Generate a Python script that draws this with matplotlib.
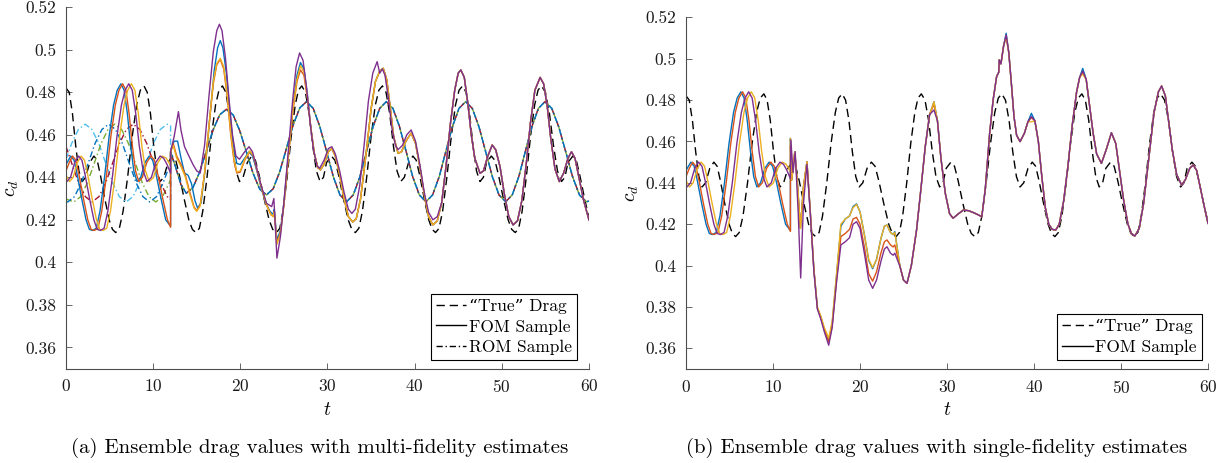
import matplotlib
matplotlib.use("Agg")
import matplotlib.pyplot as plt
from matplotlib.lines import Line2D

plt.rcParams['font.family'] = ['cmr10', 'DejaVu Serif']
plt.rcParams['mathtext.fontset'] = 'cm'
plt.rcParams['axes.formatter.use_mathtext'] = True

# --- axis ticks -------------------------------------------------------------
x_ticks = [0, 10, 20, 30, 40, 50, 60]
y_ticks = [0.36, 0.38, 0.40, 0.42, 0.44, 0.46, 0.48, 0.50, 0.52]
y_tick_labels = ['0.36', '0.38', '0.4', '0.42', '0.44', '0.46', '0.48', '0.5', '0.52']

captions = ['(a) Ensemble drag values with multi-fidelity estimates',
            '(b) Ensemble drag values with single-fidelity estimates']

# --- "true" drag (same in both panels), (t, c_d) ----------------------------
true_drag = [
    (0.0, 0.482), (0.37, 0.480), (0.74, 0.470), (1.11, 0.455), (1.48, 0.443), (1.85, 0.438),
    (2.25, 0.440), (2.73, 0.447), (3.2, 0.450), (3.58, 0.448), (3.95, 0.441), (4.45, 0.430),
    (4.95, 0.420), (5.33, 0.4155), (5.7, 0.414), (6.12, 0.416), (6.55, 0.424), (7.07, 0.440),
    (7.59, 0.459), (8.11, 0.474), (8.53, 0.481),
    (8.95, 0.483), (9.32, 0.480), (9.69, 0.470), (10.06, 0.455), (10.43, 0.443), (10.8, 0.438),
    (11.22, 0.440), (11.71, 0.447), (12.2, 0.450), (12.6, 0.448), (13.01, 0.441), (13.55, 0.430),
    (14.09, 0.420), (14.5, 0.4155), (14.9, 0.414), (15.3, 0.416), (15.69, 0.424), (16.18, 0.440),
    (16.67, 0.459), (17.16, 0.474), (17.55, 0.481),
    (17.95, 0.483), (18.34, 0.480), (18.73, 0.470), (19.12, 0.455), (19.51, 0.443), (19.9, 0.438),
    (20.32, 0.440), (20.81, 0.447), (21.3, 0.450), (21.73, 0.448), (22.16, 0.441), (22.73, 0.430),
    (23.3, 0.420), (23.72, 0.4155), (24.15, 0.414), (24.53, 0.416), (24.9, 0.424), (25.37, 0.440),
    (25.83, 0.459), (26.3, 0.474), (26.67, 0.481),
    (27.05, 0.483), (27.47, 0.480), (27.89, 0.470), (28.31, 0.455), (28.73, 0.443), (29.15, 0.438),
    (29.54, 0.440), (29.9, 0.447), (30.45, 0.450), (30.86, 0.448), (31.28, 0.441), (31.83, 0.430),
    (32.38, 0.420), (32.79, 0.4155), (33.2, 0.414), (33.6, 0.416), (34.01, 0.424), (34.5, 0.440),
    (35.0, 0.459), (35.49, 0.474), (35.9, 0.481),
    (36.3, 0.483), (36.72, 0.480), (37.14, 0.470), (37.56, 0.455), (37.98, 0.443), (38.4, 0.438),
    (38.82, 0.440), (39.31, 0.447), (39.8, 0.450), (40.19, 0.448), (40.58, 0.441), (41.1, 0.430),
    (41.62, 0.420), (42.01, 0.4155), (42.4, 0.414), (42.8, 0.416), (43.21, 0.424), (43.7, 0.440),
    (44.2, 0.459), (44.69, 0.474), (45.1, 0.481),
    (45.5, 0.483), (45.9, 0.480), (46.3, 0.470), (46.7, 0.455), (47.1, 0.443), (47.5, 0.438),
    (47.89, 0.440), (48.25, 0.447), (48.8, 0.450), (49.21, 0.448), (49.63, 0.441), (50.18, 0.430),
    (50.73, 0.420), (51.14, 0.4155), (51.55, 0.414), (51.94, 0.416), (52.33, 0.424), (52.81, 0.440),
    (53.29, 0.459), (53.77, 0.474), (54.16, 0.481),
    (54.55, 0.483), (55.01, 0.480), (55.47, 0.470), (55.93, 0.455), (56.39, 0.443), (56.85, 0.438),
    (57.24, 0.440), (57.6, 0.447), (58.15, 0.450), (58.55, 0.448), (58.95, 0.441), (59.5, 0.430),
    (60.0, 0.421)]

# --- FOM samples, t in [0, 12] (same start in both panels) -------------------
fom_blue_early = [
    (0.0, 0.446), (0.55, 0.450), (0.93, 0.448), (1.3, 0.441), (1.8, 0.430), (2.3, 0.420),
    (2.68, 0.4155), (3.05, 0.415), (3.47, 0.416), (3.9, 0.424), (4.42, 0.440), (4.94, 0.459),
    (5.46, 0.474), (5.88, 0.481), (6.3, 0.484), (6.67, 0.481), (7.04, 0.470), (7.41, 0.455),
    (7.78, 0.443), (8.15, 0.438), (8.57, 0.440), (9.06, 0.447), (9.55, 0.450), (9.95, 0.448),
    (10.36, 0.441), (10.9, 0.430), (11.44, 0.420), (12.0, 0.417)]
fom_orange_early = [
    (0.0, 0.443), (0.38, 0.447), (0.75, 0.450), (1.13, 0.448), (1.5, 0.441), (2.0, 0.430),
    (2.5, 0.420), (2.88, 0.4155), (3.25, 0.415), (3.67, 0.416), (4.1, 0.424), (4.62, 0.440),
    (5.14, 0.459), (5.66, 0.474), (6.08, 0.481), (6.5, 0.484), (6.87, 0.481), (7.24, 0.470),
    (7.61, 0.455), (7.98, 0.443), (8.35, 0.438), (8.77, 0.440), (9.26, 0.447), (9.75, 0.450),
    (10.15, 0.448), (10.56, 0.441), (11.1, 0.430), (11.64, 0.420), (12.0, 0.4165)]
fom_yellow_early = [
    (0.0, 0.441), (0.4, 0.438), (0.82, 0.440), (1.3, 0.447), (1.75, 0.450), (2.13, 0.448),
    (2.5, 0.441), (3.0, 0.430), (3.5, 0.420), (3.88, 0.4155), (4.25, 0.415), (4.67, 0.416),
    (5.1, 0.424), (5.62, 0.440), (6.14, 0.459), (6.66, 0.474), (7.08, 0.481), (7.5, 0.484),
    (7.9, 0.481), (8.3, 0.470), (8.7, 0.455), (9.12, 0.443), (9.55, 0.438), (10.05, 0.440),
    (10.55, 0.447), (11.05, 0.450), (11.5, 0.449), (12.0, 0.4455)]
fom_purple_early = [
    (0.0, 0.4385), (0.1, 0.438), (0.52, 0.440), (1.0, 0.447), (1.45, 0.450), (1.83, 0.448),
    (2.2, 0.441), (2.7, 0.430), (3.2, 0.420), (3.58, 0.4155), (3.95, 0.415), (4.37, 0.416),
    (4.8, 0.424), (5.32, 0.440), (5.84, 0.459), (6.36, 0.474), (6.78, 0.481), (7.2, 0.484),
    (7.6, 0.481), (8.0, 0.470), (8.4, 0.455), (8.85, 0.443), (9.3, 0.438), (9.8, 0.440),
    (10.3, 0.447), (10.8, 0.450), (11.2, 0.449), (11.6, 0.446), (12.0, 0.442)]

# --- panel (a): multi-fidelity FOM samples after t = 12 ----------------------
a_blue_mid = [
    (12.0, 0.452), (12.4, 0.457), (12.8, 0.457), (13.2, 0.449), (13.6, 0.442), (14.0, 0.441),
    (14.4, 0.437), (14.8, 0.429), (15.1, 0.4255), (15.5, 0.428), (16.0, 0.445), (16.5, 0.468),
    (17.0, 0.490), (17.4, 0.501), (17.7, 0.5043), (18.0, 0.501), (18.4, 0.489), (18.8, 0.470),
    (19.2, 0.455), (19.6, 0.4465), (20.0, 0.446), (20.5, 0.449), (21.0, 0.452), (21.4, 0.450),
    (21.9, 0.443), (22.4, 0.435), (22.9, 0.428), (23.4, 0.424), (23.8, 0.4225), (23.9, 0.425),
    (24.2, 0.4105), (24.6, 0.415), (25.0, 0.428), (25.5, 0.450), (26.0, 0.472), (26.5, 0.488),
    (26.9, 0.494), (27.3, 0.491), (27.7, 0.479)]
a_orange_mid = [
    (12.0, 0.452), (12.3, 0.456), (12.7, 0.450), (13.2, 0.446), (13.7, 0.441), (14.2, 0.433),
    (14.7, 0.426), (15.0, 0.4243), (15.4, 0.427), (15.9, 0.442), (16.4, 0.464), (16.9, 0.484),
    (17.3, 0.493), (17.7, 0.4955), (18.1, 0.491), (18.5, 0.478), (18.9, 0.460), (19.3, 0.447),
    (19.6, 0.442), (20.0, 0.4425), (20.5, 0.448), (21.1, 0.4522), (21.5, 0.450), (22.0, 0.442),
    (22.5, 0.434), (23.0, 0.427), (23.5, 0.4225), (23.8, 0.4215), (23.9, 0.424), (24.2, 0.409),
    (24.6, 0.414), (25.0, 0.427), (25.5, 0.449), (26.0, 0.470), (26.5, 0.485), (26.9, 0.4905),
    (27.3, 0.488), (27.7, 0.477)]
a_yellow_mid = [
    (12.0, 0.452), (12.3, 0.455), (12.7, 0.449), (13.2, 0.445), (13.7, 0.440), (14.2, 0.432),
    (14.7, 0.4255), (15.0, 0.424), (15.4, 0.4265), (15.9, 0.442), (16.4, 0.464), (16.9, 0.485),
    (17.3, 0.4935), (17.7, 0.496), (18.1, 0.492), (18.5, 0.479), (18.9, 0.461), (19.3, 0.448),
    (19.6, 0.4425), (20.0, 0.443), (20.5, 0.4485), (21.1, 0.4525), (21.5, 0.450), (22.0, 0.442),
    (22.5, 0.434), (23.0, 0.427), (23.5, 0.4225), (23.8, 0.4215), (23.9, 0.4235), (24.2, 0.4085),
    (24.6, 0.4135), (25.0, 0.427), (25.5, 0.449), (26.0, 0.471), (26.5, 0.486), (26.9, 0.4925),
    (27.3, 0.4895), (27.7, 0.478)]
a_shared_mid = [
    (28.1, 0.463), (28.5, 0.451), (28.9, 0.4445), (29.2, 0.4435), (29.6, 0.446), (30.1, 0.452),
    (30.5, 0.4535), (30.9, 0.450), (31.4, 0.441), (31.9, 0.430), (32.4, 0.4215), (32.9, 0.419),
    (33.3, 0.4205), (33.8, 0.430), (34.4, 0.450), (35.0, 0.472), (35.5, 0.485), (36.0, 0.490),
    (36.4, 0.4913), (36.8, 0.486), (37.2, 0.473), (37.6, 0.459), (38.1, 0.4513), (38.5, 0.452),
    (39.0, 0.457), (39.6, 0.4608), (40.1, 0.456), (40.6, 0.445), (41.1, 0.432), (41.6, 0.4215),
    (42.1, 0.4176), (42.6, 0.4195)]
a_purple_mid = [
    (12.0, 0.452), (12.4, 0.459), (12.9, 0.4709), (13.2, 0.462), (13.6, 0.4544), (14.1, 0.450),
    (14.6, 0.4458), (15.0, 0.443), (15.4, 0.442), (15.9, 0.455), (16.4, 0.478), (16.9, 0.499),
    (17.3, 0.509), (17.6, 0.512), (17.9, 0.509), (18.3, 0.496), (18.7, 0.477), (19.1, 0.460),
    (19.5, 0.450), (19.9, 0.4485), (20.5, 0.452), (21.0, 0.4544), (21.4, 0.452), (21.9, 0.444),
    (22.4, 0.436), (23.0, 0.4278), (23.6, 0.4262), (23.85, 0.430), (24.2, 0.402), (24.6, 0.412),
    (25.0, 0.428), (25.5, 0.452), (26.0, 0.476), (26.4, 0.492), (26.8, 0.4985), (27.2, 0.495),
    (27.6, 0.482), (28.0, 0.466), (28.4, 0.453), (28.8, 0.4455), (29.1, 0.4442), (29.6, 0.448),
    (30.1, 0.4535), (30.5, 0.4544), (30.9, 0.451), (31.4, 0.443), (31.9, 0.433), (32.4, 0.425),
    (32.8, 0.423), (33.2, 0.425), (33.7, 0.436), (34.2, 0.455), (34.7, 0.476), (35.2, 0.489),
    (35.7, 0.4944), (36.0, 0.489), (36.3, 0.491), (36.6, 0.488), (37.0, 0.477), (37.4, 0.463),
    (37.8, 0.455), (38.1, 0.453), (38.6, 0.455), (39.1, 0.460), (39.6, 0.4623), (40.1, 0.457),
    (40.6, 0.446), (41.1, 0.433), (41.6, 0.4235), (42.1, 0.420), (42.6, 0.4215)]
a_shared_late = [
    (43.1, 0.428), (43.6, 0.445), (44.1, 0.465), (44.6, 0.481), (45.0, 0.489), (45.3, 0.4905),
    (45.7, 0.487), (46.1, 0.475), (46.5, 0.460), (46.9, 0.449), (47.5, 0.4419), (47.9, 0.443),
    (48.4, 0.450), (48.9, 0.4552), (49.3, 0.453), (49.8, 0.445), (50.3, 0.432), (50.8, 0.4215),
    (51.3, 0.4176), (51.8, 0.4195), (52.3, 0.429), (52.8, 0.446), (53.3, 0.466), (53.8, 0.481),
    (54.4, 0.487), (54.8, 0.484), (55.2, 0.474), (55.6, 0.459), (56.1, 0.444), (56.6, 0.438),
    (57.1, 0.442), (57.6, 0.449), (58.0, 0.452), (58.4, 0.449), (58.8, 0.441), (59.4, 0.429),
    (60.0, 0.420)]

# --- panel (a): ROM samples ---------------------------------------------------
rom_lightblue_early = [
    (0.0, 0.4485), (0.65, 0.4559), (1.42, 0.4625), (2.2, 0.465), (2.98, 0.4625), (3.77, 0.4559),
    (4.55, 0.4467), (5.33, 0.4376), (6.12, 0.4309), (6.9, 0.4284), (7.68, 0.4309), (8.47, 0.4376),
    (9.25, 0.4467), (10.03, 0.4559), (10.82, 0.4625), (11.6, 0.465), (12.0, 0.4643)]
rom_blue_early = [
    (0.0, 0.4285), (0.2, 0.4284), (0.98, 0.4309), (1.77, 0.4376), (2.55, 0.4467), (3.33, 0.4559),
    (4.12, 0.4625), (4.9, 0.465), (5.68, 0.4625), (6.47, 0.4559), (7.25, 0.4467), (8.03, 0.4376),
    (8.82, 0.4309), (9.6, 0.4284), (10.38, 0.4309), (11.17, 0.4376), (12.0, 0.447)]
rom_green_early = [
    (0.0, 0.4298), (0.9, 0.4284), (1.68, 0.4309), (2.47, 0.4376), (3.25, 0.4467), (4.03, 0.4559),
    (4.82, 0.4625), (5.6, 0.465), (6.38, 0.4625), (7.17, 0.4559), (7.95, 0.4467), (8.73, 0.4376),
    (9.52, 0.4309), (10.3, 0.4284), (11.08, 0.4309), (11.87, 0.4376), (12.0, 0.439)]
rom_red_early = [
    (0.0, 0.4545), (0.65, 0.4467), (1.43, 0.4376), (2.22, 0.4309), (3.0, 0.4284), (3.78, 0.4309),
    (4.57, 0.4376), (5.35, 0.4467), (6.13, 0.4559), (6.92, 0.4625), (7.7, 0.465), (8.48, 0.4625),
    (9.27, 0.4559), (10.05, 0.4467), (10.83, 0.4376), (11.62, 0.4309), (12.0, 0.4295)]
rom_merged = [
    (12.0, 0.452), (12.6, 0.4445), (13.2, 0.4365), (13.8, 0.4325),
    (14.57, 0.4352), (15.33, 0.4424), (16.1, 0.4523), (16.87, 0.4622), (17.63, 0.4694), (18.4, 0.472),
    (19.17, 0.4694), (19.93, 0.4620), (20.7, 0.4519), (21.47, 0.4418), (22.23, 0.4344), (23.0, 0.4317),
    (23.77, 0.4346), (24.53, 0.4427), (25.3, 0.4537), (26.07, 0.4647), (26.83, 0.4727), (27.6, 0.4756),
    (28.37, 0.4724), (29.13, 0.4638), (29.9, 0.4521), (30.67, 0.4403), (31.43, 0.4317), (32.2, 0.4285),
    (32.96, 0.4317), (33.72, 0.4403), (34.48, 0.4521), (35.23, 0.4638), (35.99, 0.4724), (36.75, 0.4756),
    (37.51, 0.4724), (38.27, 0.4638), (39.03, 0.4521), (39.78, 0.4403), (40.54, 0.4317), (41.3, 0.4285),
    (42.06, 0.4317), (42.82, 0.4403), (43.58, 0.4521), (44.33, 0.4638), (45.09, 0.4724), (45.85, 0.4756),
    (46.62, 0.4724), (47.38, 0.4638), (48.15, 0.4521), (48.92, 0.4403), (49.68, 0.4317), (50.45, 0.4285),
    (51.2, 0.4317), (51.95, 0.4403), (52.7, 0.4521), (53.45, 0.4638), (54.2, 0.4724), (54.95, 0.4756),
    (55.74, 0.4724), (56.53, 0.4638), (57.33, 0.4521), (58.12, 0.4403), (58.91, 0.4317), (59.7, 0.4285),
    (60.0, 0.4288)]

# --- panel (b): single-fidelity FOM samples after t = 12 ---------------------
b_blue_mid = [
    (12.0, 0.4615), (12.15, 0.4414), (12.5, 0.455), (12.8, 0.440), (13.15, 0.418), (13.5, 0.438),
    (13.9, 0.4502), (14.3, 0.425), (14.7, 0.398), (15.1, 0.3795), (15.5, 0.375), (15.9, 0.369),
    (16.4, 0.3635), (16.8, 0.372), (17.3, 0.395), (17.8, 0.419), (18.3, 0.4225), (18.8, 0.424),
    (19.2, 0.4285), (19.6, 0.4298), (20.0, 0.426), (20.5, 0.415), (21.0, 0.4025), (21.45, 0.3985),
    (21.9, 0.403), (22.4, 0.413), (22.8, 0.419), (23.1, 0.4196), (23.5, 0.416), (23.8, 0.415),
    (24.0, 0.4164), (24.6, 0.3995)]
b_yellow_mid = [
    (12.0, 0.4615), (12.15, 0.4414), (12.5, 0.455), (12.8, 0.440), (13.15, 0.418), (13.5, 0.438),
    (13.9, 0.4502), (14.3, 0.425), (14.7, 0.398), (15.1, 0.380), (15.5, 0.3755), (15.9, 0.370),
    (16.4, 0.365), (16.8, 0.373), (17.3, 0.396), (17.8, 0.420), (18.3, 0.4225), (18.8, 0.424),
    (19.2, 0.428), (19.6, 0.4295), (20.0, 0.426), (20.5, 0.415), (21.0, 0.403), (21.45, 0.399),
    (21.9, 0.403), (22.4, 0.413), (22.8, 0.419), (23.1, 0.4196), (23.5, 0.416), (23.8, 0.415),
    (24.0, 0.416), (24.6, 0.3995)]
b_orange_mid = [
    (12.0, 0.458), (12.15, 0.4414), (12.5, 0.455), (12.8, 0.440), (13.15, 0.418), (13.5, 0.438),
    (13.9, 0.4502), (14.3, 0.425), (14.7, 0.398), (15.1, 0.3795), (15.5, 0.375), (15.9, 0.369),
    (16.4, 0.363), (16.8, 0.371), (17.3, 0.393), (17.8, 0.414), (18.3, 0.4155), (18.8, 0.4175),
    (19.2, 0.4225), (19.6, 0.4233), (20.0, 0.420), (20.5, 0.409), (21.0, 0.396), (21.45, 0.3925),
    (21.9, 0.397), (22.4, 0.406), (22.8, 0.4115), (23.1, 0.4124), (23.5, 0.410), (23.8, 0.409),
    (24.0, 0.410), (24.6, 0.3995)]
b_purple_mid = [
    (12.0, 0.442), (12.05, 0.4607), (12.3, 0.445), (12.55, 0.455), (12.9, 0.425), (13.18, 0.394),
    (13.5, 0.430), (13.9, 0.449), (14.3, 0.424), (14.7, 0.397), (15.1, 0.379), (15.5, 0.374),
    (15.9, 0.368), (16.4, 0.3615), (16.8, 0.370), (17.3, 0.392), (17.8, 0.410), (18.3, 0.4115),
    (18.8, 0.4135), (19.2, 0.420), (19.6, 0.4212), (20.0, 0.418), (20.5, 0.406), (21.0, 0.393),
    (21.45, 0.389), (21.9, 0.393), (22.4, 0.402), (22.8, 0.408), (23.1, 0.4091), (23.5, 0.406),
    (23.8, 0.405), (24.0, 0.406), (24.6, 0.3995)]
b_shared_1 = [
    (25.0, 0.393), (25.4, 0.3914), (25.9, 0.400), (26.5, 0.4172), (27.0, 0.437), (27.5, 0.4575),
    (28.0, 0.473)]
b_shared_2 = [
    (28.9, 0.470), (29.3, 0.452), (29.8, 0.435), (30.3, 0.425), (30.7, 0.4229), (31.3, 0.425),
    (31.9, 0.4269), (32.5, 0.4265), (33.1, 0.4255), (33.6, 0.4245), (34.0, 0.4236), (34.4, 0.437),
    (34.9, 0.4639), (35.3, 0.480), (35.7, 0.4913), (35.95, 0.4935), (36.0, 0.4994), (36.2, 0.4975),
    (36.5, 0.506)]
b_shared_3 = [
    (37.1, 0.503), (37.4, 0.488), (37.7, 0.472), (38.0, 0.463), (38.4, 0.4599), (38.9, 0.464),
    (39.3, 0.4695)]
b_shared_4 = [
    (40.1, 0.470), (40.5, 0.460), (40.9, 0.443), (41.3, 0.428), (41.7, 0.420), (42.1, 0.4175),
    (42.5, 0.4172), (42.9, 0.420), (43.4, 0.431), (43.9, 0.448), (44.4, 0.468), (44.9, 0.484),
    (45.25, 0.491)]
b_shared_late = [
    (46.0, 0.490), (46.4, 0.477), (46.8, 0.4639), (47.2, 0.454), (47.75, 0.4494), (48.3, 0.456),
    (48.9, 0.4642), (49.4, 0.459), (49.9, 0.444), (50.3, 0.4317), (50.8, 0.420), (51.2, 0.4155),
    (51.6, 0.4143), (52.1, 0.418), (52.6, 0.430), (53.3, 0.4559), (53.8, 0.474), (54.3, 0.484),
    (54.67, 0.4868), (55.1, 0.482), (55.5, 0.469), (55.9, 0.4559), (56.4, 0.444), (56.97, 0.4389),
    (57.4, 0.4415), (57.9, 0.447), (58.3, 0.4486), (58.7, 0.446), (59.2, 0.436), (59.6, 0.428),
    (60.0, 0.4204)]
# peak values that differ per sample: t = 28.5, 36.8, 39.7, 45.6
b_peak_t = [28.5, 36.8, 39.7, 45.6]
b_peaks = {
    'blue':   [0.4792, 0.5123, 0.4736, 0.4953],
    'orange': [0.4780, 0.5110, 0.4715, 0.4935],
    'yellow': [0.4792, 0.5105, 0.4695, 0.4925],
    'purple': [0.4752, 0.5115, 0.4720, 0.4940],
}

colors = {'blue': '#0072BD', 'orange': '#D95319', 'yellow': '#EDB120',
          'purple': '#7E2F8E', 'green': '#77AC30', 'lightblue': '#4DBEEE',
          'red': '#A2142F'}


def xy(*segments):
    pts = [p for seg in segments for p in seg]
    return [p[0] for p in pts], [p[1] for p in pts]


def style_axes(ax):
    ax.set_xlim(0, 60)
    ax.set_ylim(0.35, 0.52)
    ax.set_xticks(x_ticks)
    ax.set_yticks(y_ticks)
    ax.set_yticklabels(y_tick_labels)
    for s in ('top', 'right'):
        ax.spines[s].set_visible(False)
    for s in ('left', 'bottom'):
        ax.spines[s].set_color('#4d4d4d')
        ax.spines[s].set_linewidth(0.8)
    ax.tick_params(direction='in', length=4, width=0.6, color='#4d4d4d',
                   labelcolor='#1a1a1a', labelsize=12.5, pad=7)
    ax.set_xlabel('$t$', fontsize=14, labelpad=4)
    ax.set_ylabel('$c_d$', fontsize=14, labelpad=3)


fig = plt.figure(figsize=(12.29, 4.63), dpi=100)
ax_a = fig.add_axes([0.0537, 0.2039, 0.4255, 0.7804])
ax_b = fig.add_axes([0.5582, 0.2030, 0.4247, 0.7596])

lw = 1.0
dash_true = (0, (6, 3.5))
dash_rom = (0, (4.5, 2, 1, 2))

# panel (a)
t, v = xy(true_drag)
ax_a.plot(t, v, color='k', lw=lw, linestyle=dash_true)
for name, early in [('lightblue', rom_lightblue_early), ('green', rom_green_early),
                    ('red', rom_red_early), ('blue', rom_blue_early)]:
    t, v = xy(early, rom_merged)
    ax_a.plot(t, v, color=colors[name], lw=lw, linestyle=dash_rom)
fom_a = [('blue', fom_blue_early, a_blue_mid, a_shared_mid),
         ('orange', fom_orange_early, a_orange_mid, a_shared_mid),
         ('yellow', fom_yellow_early, a_yellow_mid, a_shared_mid),
         ('purple', fom_purple_early, a_purple_mid, [])]
for name, early, mid, shared in fom_a:
    t, v = xy(early, mid, shared, a_shared_late)
    ax_a.plot(t, v, color=colors[name], lw=lw)

# panel (b)
t, v = xy(true_drag)
ax_b.plot(t, v, color='k', lw=lw, linestyle=dash_true)
fom_b = [('blue', fom_blue_early, b_blue_mid), ('orange', fom_orange_early, b_orange_mid),
         ('yellow', fom_yellow_early, b_yellow_mid), ('purple', fom_purple_early, b_purple_mid)]
for name, early, mid in fom_b:
    pk = [[(tp, vp)] for tp, vp in zip(b_peak_t, b_peaks[name])]
    t, v = xy(early, mid, b_shared_1, pk[0], b_shared_2, pk[1], b_shared_3, pk[2],
              b_shared_4, pk[3], b_shared_late)
    ax_b.plot(t, v, color=colors[name], lw=lw)

for ax in (ax_a, ax_b):
    style_axes(ax)

# legends use plain black proxies, as in the original
h_true = Line2D([], [], color='k', lw=lw, linestyle=dash_true)
h_fom = Line2D([], [], color='k', lw=lw)
h_rom = Line2D([], [], color='k', lw=lw, linestyle=dash_rom)
leg_kw = dict(loc='lower right', borderaxespad=0, fancybox=False, framealpha=1,
              edgecolor='k', fontsize=12.5, handlelength=1.75, handletextpad=0.15,
              borderpad=0.3, labelspacing=0.28)
la = ax_a.legend([h_true, h_fom, h_rom], ['\u201cTrue\u201d Drag', 'FOM Sample', 'ROM Sample'],
                 bbox_to_anchor=(0.977, 0.024), **leg_kw)
lb = ax_b.legend([h_true, h_fom], ['\u201cTrue\u201d Drag', 'FOM Sample'],
                 bbox_to_anchor=(0.9885, 0.026), **leg_kw)
for lg in (la, lb):
    lg.get_frame().set_linewidth(0.8)

fig.text(0.2604, 0.0324, captions[0], ha='center', va='center', fontsize=15)
fig.text(0.7624, 0.0324, captions[1], ha='center', va='center', fontsize=15)

fig.savefig('out.png', dpi=100)
